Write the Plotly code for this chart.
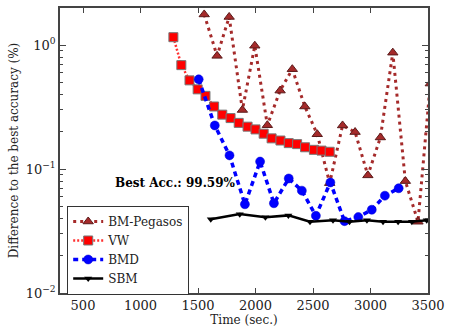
import plotly.graph_objects as go

# Training time (sec.) and gap to best accuracy (%) for each solver
peg_time = [1554, 1666, 1771, 1886, 1994, 2103, 2214, 2320, 2429, 2537, 2645,
            2757, 2866, 2977, 3086, 3194, 3303, 3413, 3520]
peg_diff = [1.77, 0.82, 1.69, 0.30, 0.99, 0.226, 0.43, 0.64, 0.32, 0.191, 0.077,
            0.225, 0.199, 0.089, 0.18, 0.87, 0.080, 0.0376, 0.49]

vw_time = [1286, 1355, 1426, 1497, 1565, 1640, 1711, 1783, 1854, 1931, 2000,
           2071, 2140, 2217, 2289, 2362, 2431, 2508, 2574, 2645]
vw_diff = [1.16, 0.69, 0.52, 0.44, 0.39, 0.32, 0.275, 0.258, 0.236, 0.220, 0.209,
           0.193, 0.177, 0.170, 0.162, 0.159, 0.150, 0.143, 0.141, 0.138]

bmd_time = [1506, 1646, 1774, 1908, 2040, 2160, 2289, 2403, 2525, 2651, 2774,
            2894, 3011, 3125, 3245]
bmd_diff = [0.53, 0.225, 0.129, 0.052, 0.115, 0.053, 0.084, 0.067, 0.042, 0.078,
            0.038, 0.041, 0.047, 0.061, 0.070]

sbm_time = [1611, 1863, 2086, 2286, 2474, 2674, 2817, 2969, 3109, 3240, 3360, 3489]
sbm_diff = [0.0394, 0.0433, 0.0408, 0.0423, 0.0376, 0.0387, 0.0376, 0.0387,
            0.0376, 0.0376, 0.0376, 0.0387]

x_ticks = [500, 1000, 1500, 2000, 2500, 3000, 3500]
y_ticks = [0.01, 0.1, 1]
y_tick_text = ["10<sup>−2</sup>", "10<sup>−1</sup>", "10<sup>0</sup>"]
best_acc = "Best Acc.: 99.59%"

FONT = "DejaVu Serif"
INK = "#222222"

fig = go.Figure()

fig.add_trace(go.Scatter(
    x=peg_time, y=peg_diff, name="BM-Pegasos", mode="lines+markers",
    line=dict(color="#a52a2a", width=3, dash="3px,4px"),
    marker=dict(symbol="triangle-up", size=9, color="#a52a2a",
                line=dict(color="#5a1a1a", width=1)),
))
fig.add_trace(go.Scatter(
    x=vw_time, y=vw_diff, name="VW", mode="lines+markers",
    line=dict(color="#ff3030", width=2.5, dash="2px,2px"),
    marker=dict(symbol="square", size=9, color="#ff0000",
                line=dict(color="#777777", width=1)),
))
fig.add_trace(go.Scatter(
    x=bmd_time, y=bmd_diff, name="BMD", mode="lines+markers",
    line=dict(color="#0000ff", width=3.5, dash="5px,4px"),
    marker=dict(symbol="circle", size=9, color="#0000ff",
                line=dict(color="#0000cc", width=0.5)),
))
fig.add_trace(go.Scatter(
    x=sbm_time, y=sbm_diff, name="SBM", mode="lines+markers",
    line=dict(color="#000000", width=2.5),
    marker=dict(symbol="triangle-down", size=7, color="#000000"),
))

fig.add_annotation(
    text="<b>" + best_acc + "</b>", xref="paper", yref="paper",
    x=0.313, y=0.385, xanchor="center", yanchor="middle", showarrow=False,
    font=dict(family=FONT, size=12, color="#000000"),
)

fig.update_xaxes(
    range=[300, 3500], tickvals=x_ticks,
    ticks="inside", ticklen=5, tickcolor="#444444",
    showline=True, linecolor="#444444", linewidth=1.5, mirror="allticks",
    showgrid=False, zeroline=False,
    tickfont=dict(family=FONT, size=13, color=INK),
    title=dict(text="Time (sec.)", font=dict(family=FONT, size=12, color=INK),
               standoff=2),
)
fig.update_yaxes(
    type="log", range=[-2, 0.3], tickvals=y_ticks, ticktext=y_tick_text,
    ticks="inside", ticklen=6, tickcolor="#444444",
    minor=dict(ticks="inside", ticklen=3, tickcolor="#444444",
               tickvals=[m * d for d in (0.01, 0.1, 1) for m in range(2, 10)]),
    showline=True, linecolor="#444444", linewidth=1.5, mirror="allticks",
    showgrid=False, zeroline=False,
    tickfont=dict(family=FONT, size=13, color=INK),
    title=dict(text="Difference to the best accuracy (%)",
               font=dict(family=FONT, size=12, color=INK), standoff=4),
)

fig.update_layout(
    width=451, height=330,
    margin=dict(l=60, r=17, t=6, b=33),
    paper_bgcolor="white", plot_bgcolor="white",
    font=dict(family=FONT),
    showlegend=True,
    legend=dict(
        x=0.019, y=0.306, xanchor="left", yanchor="top",
        bgcolor="white", bordercolor="#333333", borderwidth=1.2,
        font=dict(family=FONT, size=12, color=INK),
        tracegroupgap=0, itemwidth=30,
    ),
)

fig.write_html("out.html")
